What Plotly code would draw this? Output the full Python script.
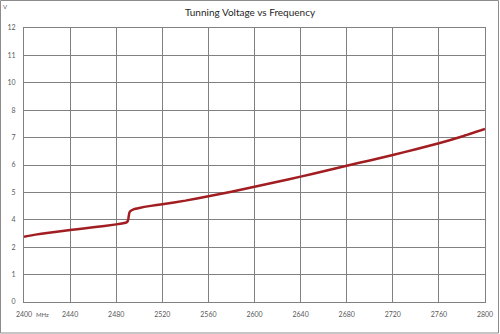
import plotly.graph_objects as go

# Data
freq_mhz = [2400, 2410, 2420, 2440, 2460, 2480, 2486, 2489, 2490, 2490.5, 2491, 2491.5,
            2492.5, 2495, 2500, 2510, 2520, 2540, 2560, 2580, 2600, 2620, 2640, 2660,
            2680, 2700, 2720, 2740, 2760, 2780, 2800]
voltage_v = [2.86, 2.95, 3.02, 3.15, 3.27, 3.40, 3.45, 3.49, 3.54, 3.65, 3.80, 3.92,
             3.99, 4.06, 4.12, 4.21, 4.28, 4.44, 4.63, 4.83, 5.05, 5.27, 5.49, 5.73,
             5.97, 6.20, 6.44, 6.69, 6.95, 7.25, 7.58]

x_tickvals = [2400, 2440, 2480, 2520, 2560, 2600, 2640, 2680, 2720, 2760, 2800]
x_ticktext = ["2400", "2440", "2480", "2520", "2560", "2600", "2640", "2680", "2720", "2760", "2800"]
y_tickvals = [0, 1.2, 2.4, 3.6, 4.8, 6.0, 7.2, 8.4, 9.6, 10.8, 12.0]
y_ticktext = ["0", "1", "2", "4", "5", "6", "7", "8", "10", "11", "12"]

W, H = 500, 334
L, R, T, B = 24, 15, 28, 32
pw, ph = W - L - R, H - T - B

def px(xp):
    return (xp - L) / pw

def py(yp):
    return (H - B - yp) / ph

font_family = "Lato, 'Open Sans', sans-serif"
grid = "#808080"
lbl = "#595959"

fig = go.Figure()
fig.add_trace(go.Scatter(
    x=freq_mhz, y=voltage_v, mode="lines",
    line=dict(color="#A11D21", width=2.5, shape="spline", smoothing=0.5),
    hoverinfo="x+y", showlegend=False,
))

fig.update_layout(
    width=W, height=H,
    margin=dict(l=L, r=R, t=T, b=B, autoexpand=False),
    paper_bgcolor="white", plot_bgcolor="white",
    font=dict(family=font_family, size=7, color=lbl),
    title=dict(text="Tunning Voltage vs Frequency", x=0.5, xanchor="center",
               y=1 - 12 / H, yanchor="middle", automargin=False,
               font=dict(family=font_family, size=10, color="#262626")),
    xaxis=dict(range=[2400, 2800], tickvals=x_tickvals, ticktext=x_ticktext,
               showgrid=True, gridcolor=grid, gridwidth=1, zeroline=False,
               showline=True, linecolor=grid, linewidth=1, mirror=True, automargin=False,
               ticks="", ticklabelstandoff=6, tickfont=dict(size=7, color=lbl)),
    yaxis=dict(range=[0, 12], tickvals=y_tickvals, ticktext=y_ticktext,
               showgrid=True, gridcolor=grid, gridwidth=1, zeroline=False,
               showline=True, linecolor=grid, linewidth=1, mirror=True, automargin=False,
               ticks="", ticklabelstandoff=6, tickfont=dict(size=7, color=lbl)),
    shapes=[dict(type="rect", xref="paper", yref="paper",
                 x0=px(0.5), x1=px(498.5), y0=py(0.5), y1=py(333),
                 line=dict(color="#8c8c8c", width=1), fillcolor="rgba(0,0,0,0)",
                 layer="below")],
    annotations=[
        dict(text="V", xref="paper", yref="paper", x=px(5), y=py(7),
             showarrow=False, xanchor="center", yanchor="middle",
             font=dict(size=6, color=lbl)),
        dict(text="MHz", xref="paper", yref="paper", x=px(42), y=py(315),
             showarrow=False, xanchor="center", yanchor="middle",
             font=dict(size=6, color=lbl)),
    ],
)

fig.write_html("out.html")
